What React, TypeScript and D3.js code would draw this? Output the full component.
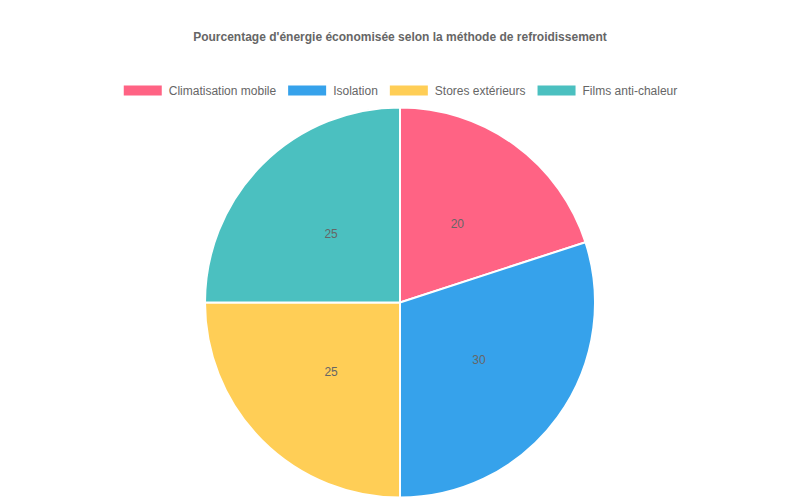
import { useEffect, useRef } from "react"
import * as d3 from "d3"

// data
const categories = ["Climatisation mobile", "Isolation", "Stores extérieurs", "Films anti-chaleur"]
const values = [20, 30, 25, 25]
const colors = ["#FF6384", "#36A2EB", "#FFCE56", "#4BC0C0"]
const title = "Pourcentage d'énergie économisée selon la méthode de refroidissement"

const App = () => {
	const svgRef = useRef<SVGSVGElement>(null)

	useEffect(() => {
		document.body.style.margin = "0"
		const width = 800
		const height = 500
		const font = "'Liberation Sans', Arial, Helvetica, sans-serif"

		const svg = d3.select(svgRef.current)
		svg.selectAll("*").remove()
		svg.attr("width", width).attr("height", height)

		// title
		svg.append("text")
			.attr("x", width / 2)
			.attr("y", 41)
			.attr("text-anchor", "middle")
			.style("font-family", font)
			.style("font-size", "12px")
			.style("font-weight", "bold")
			.attr("fill", "#666")
			.text(title)

		// legend, centred on one line like chart.js does
		const boxW = 38
		const boxH = 10
		const textGap = 46
		const pad = 11
		const legend = svg.append("g")
		const items = legend.selectAll("g")
			.data(categories)
			.enter()
			.append("g")
		items.append("rect")
			.attr("x", 1)
			.attr("width", boxW)
			.attr("height", boxH)
			.attr("y", 85.5)
			.attr("fill", (_, i) => colors[i])
		const labels = items.append("text")
			.attr("x", textGap)
			.attr("y", 94.5)
			.style("font-family", font)
			.style("font-size", "12px")
			.attr("fill", "#666")
			.text(d => d)

		const widths: number[] = []
		labels.each(function () {
			widths.push(textGap + (this as SVGTextElement).getComputedTextLength())
		})
		const total = d3.sum(widths) + pad * (widths.length - 1)
		let x = (width - total) / 2
		items.each(function (_, i) {
			d3.select(this).attr("transform", `translate(${x},0)`)
			x += widths[i] + pad
		})

		// pie
		const cx = width / 2
		const cy = 302.5
		const radius = 195
		const pie = d3.pie<number>().sort(null)
		const arc = d3.arc<d3.PieArcDatum<number>>().innerRadius(0).outerRadius(radius)
		const g = svg.append("g").attr("transform", `translate(${cx},${cy})`)
		const arcs = pie(values)

		g.selectAll("path")
			.data(arcs)
			.enter()
			.append("path")
			.attr("d", arc)
			.attr("fill", (_, i) => colors[i])
			.attr("stroke", "#fff")
			.style("stroke-width", "2px")

		g.selectAll("text")
			.data(arcs)
			.enter()
			.append("text")
			.attr("transform", d => `translate(${arc.centroid(d)})`)
			.attr("text-anchor", "middle")
			.attr("dy", "0.35em")
			.style("font-family", font)
			.style("font-size", "12px")
			.attr("fill", "#666")
			.text(d => d.data)
	}, [])

	return <svg ref={svgRef} style={{ display: "block" }}></svg>
}

export default App
